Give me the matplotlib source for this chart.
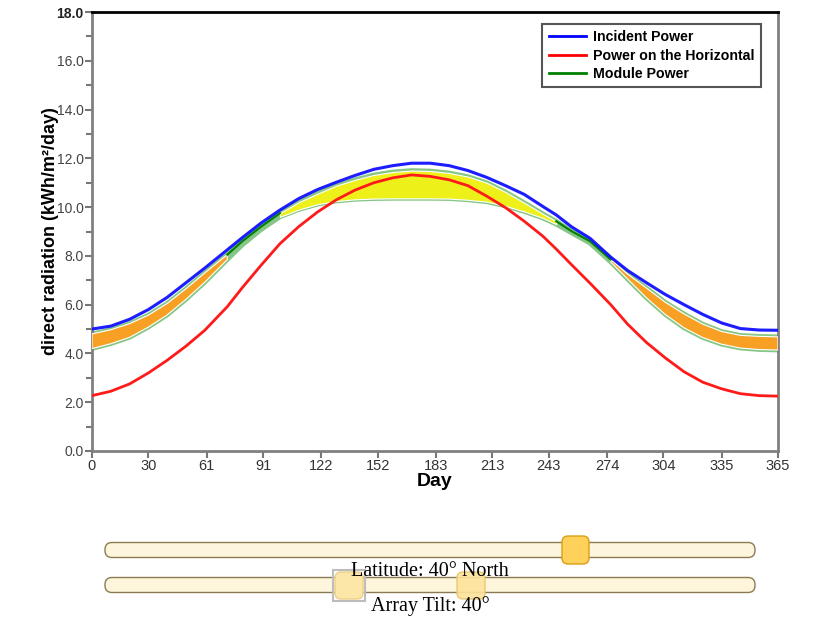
import numpy as np
import matplotlib
matplotlib.use('Agg')
import matplotlib.pyplot as plt
from matplotlib.patches import FancyBboxPatch, Rectangle

# values (kWh/m2/day)
days = [0, 10, 20, 30, 40, 50, 60, 72, 80, 90, 100, 110, 120, 130, 140, 150, 160, 170,
        180, 190, 200, 210, 220, 230, 240, 247, 255, 265, 276, 285, 295, 305, 315, 325,
        335, 345, 355, 365]
incident = [5.00, 5.12, 5.40, 5.80, 6.30, 6.90, 7.50, 8.25, 8.75, 9.35, 9.88, 10.35, 10.72,
            11.02, 11.30, 11.55, 11.70, 11.80, 11.80, 11.70, 11.50, 11.22, 10.88, 10.52,
            10.02, 9.68, 9.20, 8.72, 7.95, 7.40, 6.90, 6.42, 6.00, 5.60, 5.25, 5.02, 4.96, 4.95]
horizontal = [2.27, 2.45, 2.75, 3.20, 3.72, 4.30, 4.95, 5.92, 6.70, 7.62, 8.50, 9.20, 9.80,
              10.30, 10.70, 11.00, 11.20, 11.32, 11.26, 11.12, 10.88, 10.45, 9.98, 9.42,
              8.80, 8.28, 7.65, 6.88, 6.00, 5.20, 4.45, 3.82, 3.25, 2.82, 2.55, 2.35, 2.27, 2.25]
module_hi = [4.80, 4.97, 5.22, 5.57, 6.05, 6.65, 7.30, 8.05, 8.60, 9.20, 9.75, 10.20, 10.55,
             10.88, 11.12, 11.32, 11.44, 11.50, 11.48, 11.40, 11.25, 11.00, 10.62, 10.18,
             9.72, 9.42, 9.02, 8.60, 7.85, 7.25, 6.68, 6.10, 5.62, 5.20, 4.90, 4.74, 4.70, 4.68]
module_lo = [4.20, 4.40, 4.66, 5.08, 5.58, 6.22, 6.92, 7.85, 8.45, 9.08, 9.60, 9.90, 10.12,
             10.25, 10.32, 10.35, 10.36, 10.36, 10.36, 10.35, 10.30, 10.22, 10.05, 9.82,
             9.55, 9.30, 8.95, 8.52, 7.75, 7.05, 6.28, 5.60, 5.05, 4.65, 4.38, 4.22, 4.16, 4.14]

orange_ranges = [(0, 72), (276, 365)]
yellow_ranges = [(100, 247)]
gap_ranges = [(72, 100), (247, 276)]

month_ticks = [0, 30, 61, 91, 122, 152, 183, 213, 243, 274, 304, 335, 365]
latitude_text = 'Latitude: 40° North'
tilt_text = 'Array Tilt: 40°'

SANS = ['Liberation Sans', 'DejaVu Sans']
NARROW = ['Liberation Sans Narrow', 'Liberation Sans', 'DejaVu Sans']
SERIF = ['Liberation Serif', 'DejaVu Serif']


def in_ranges(x, ranges):
    x = np.asarray(x)
    m = np.zeros(len(x), dtype=bool)
    for a, b in ranges:
        m |= (x >= a) & (x <= b)
    return m


def main():
    d = np.array(days)
    hi = np.array(module_hi)
    lo = np.array(module_lo)

    fig = plt.figure(figsize=(8.37, 6.17), dpi=100)
    ax = fig.add_axes([92 / 837, 1 - 451 / 617, 686 / 837, 439 / 617])

    # module band: light green edges, coloured fill
    ax.plot(d, hi, color='#86c686', lw=3.4, zorder=2)
    ax.plot(d, lo, color='#86c686', lw=3.4, zorder=2)
    ax.fill_between(d, lo, hi, where=in_ranges(d, orange_ranges), color='#f7a023',
                    edgecolor='white', lw=0.8, zorder=3)
    ax.fill_between(d, lo, hi, where=in_ranges(d, yellow_ranges), color='#eef01a',
                    edgecolor='white', lw=0.8, zorder=3)
    gap = np.ma.masked_where(~in_ranges(d, gap_ranges), hi)
    ax.plot(d, gap, color='#008000', lw=1.5, zorder=4)

    ax.plot(d, horizontal, color='#ff1a1a', lw=2, zorder=5)
    ax.plot(d, incident, color='#1010ff', lw=2.2, zorder=5, alpha=0.95)

    # legend handles
    ax.plot([], [], color='#0000ff', lw=2, label='Incident Power')
    ax.plot([], [], color='#ff0000', lw=2, label='Power on the Horizontal')
    ax.plot([], [], color='#008000', lw=2, label='Module Power')
    handles, labels = ax.get_legend_handles_labels()
    leg = ax.legend(handles, labels, loc='upper right', bbox_to_anchor=(0.986, 0.989),
                    fancybox=False, framealpha=1, edgecolor='#555555', borderpad=0.45,
                    handlelength=2.6, handletextpad=0.55, labelspacing=0.3,
                    prop={'family': SANS, 'weight': 'bold', 'size': 10.2})
    leg.get_frame().set_linewidth(1.5)

    ax.set_xlim(0, 365)
    ax.set_ylim(0, 18)
    ax.set_xticks(month_ticks)
    ax.set_xticklabels([str(t) for t in month_ticks], family=NARROW, fontsize=10.5,
                       color='#333333')
    ax.set_yticks(np.arange(0, 19, 2))
    ax.set_yticks(np.arange(1, 18, 2), minor=True)
    ax.set_yticklabels([f'{v:.1f}' for v in np.arange(0, 19, 2)], family=SANS,
                       fontsize=10, color='#444444')
    ax.yaxis.get_ticklabels()[-1].set_fontweight('bold')
    ax.yaxis.get_ticklabels()[-1].set_color('#222222')
    ax.tick_params(axis='both', which='both', color='#777777', width=1.5, direction='out')
    ax.tick_params(axis='y', which='major', length=5, pad=1)
    ax.tick_params(axis='y', which='minor', length=4)
    ax.tick_params(axis='x', length=5, pad=1)

    for side in ['left', 'right', 'bottom']:
        ax.spines[side].set_color('#808080')
        ax.spines[side].set_linewidth(2)
    ax.spines['top'].set_color('black')
    ax.spines['top'].set_linewidth(2)

    ax.set_xlabel('Day', family=NARROW, fontweight='bold', fontsize=14, labelpad=0)
    ax.set_ylabel('direct radiation (kWh/m²/day)', family=SANS, fontweight='bold',
                  fontsize=13, labelpad=-2)

    # slider controls under the chart, drawn in pixel coordinates
    ui = fig.add_axes([0, 0, 1, 1], zorder=-1)
    ui.set_xlim(0, 837)
    ui.set_ylim(617, 0)
    ui.axis('off')

    for cy in (550, 585):
        ui.add_patch(FancyBboxPatch((105, cy - 7.5), 650, 15,
                                    boxstyle='round,pad=0,rounding_size=7',
                                    fc='#fdf6dc', ec='#8c7b52', lw=1))
    ui.add_patch(FancyBboxPatch((562, 536), 27, 28, boxstyle='round,pad=0,rounding_size=6',
                                fc='#fdd15a', ec='#d9a01a', lw=1))
    ui.add_patch(Rectangle((333, 570), 32, 31, fc='none', ec='#bdbdbd', lw=1.5))
    ui.add_patch(FancyBboxPatch((335, 572), 28, 27, boxstyle='round,pad=0,rounding_size=6',
                                fc='#fde7a8', ec='#ecd08a', lw=1))
    ui.add_patch(FancyBboxPatch((457, 572), 28, 27, boxstyle='round,pad=0,rounding_size=6',
                                fc='#fde29a', ec='#e6c46c', lw=1, alpha=0.9))

    ui.text(430, 571, latitude_text, family=SERIF, fontsize=14.5, ha='center', va='center')
    ui.text(430, 606, tilt_text, family=SERIF, fontsize=14.5, ha='center', va='center')

    fig.savefig('out.png', dpi=100)


if __name__ == '__main__':
    main()
